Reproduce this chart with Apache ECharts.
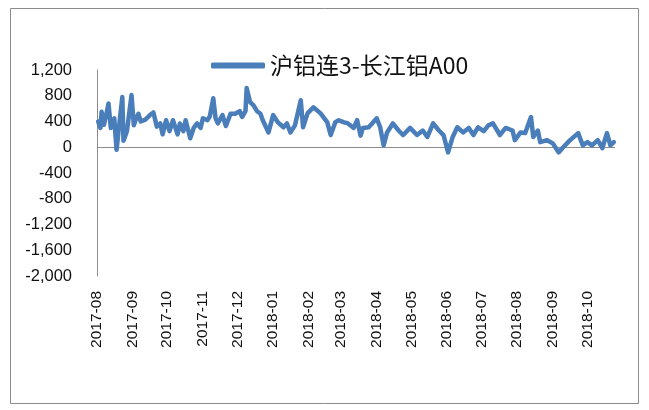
<!DOCTYPE html>
<html>
<head>
<meta charset="utf-8">
<script src="https://cdn.jsdelivr.net/npm/echarts@6/dist/echarts.min.js"></script>
<style>
html,body{margin:0;padding:0;background:#fff;}
#main{width:649px;height:410px;}
</style>
</head>
<body>
<div id="main"></div>
<script>
	var seriesName = '沪铝连3-长江铝A00';
	// dates and values (peaks / troughs of the spread)
	var dates = [
		'2017-08-02','2017-08-04','2017-08-05','2017-08-07','2017-08-09','2017-08-11','2017-08-13','2017-08-16','2017-08-18','2017-08-20',
		'2017-08-23','2017-08-24','2017-08-27','2017-08-31','2017-09-02','2017-09-04','2017-09-06','2017-09-08','2017-09-12','2017-09-16',
		'2017-09-19','2017-09-22','2017-09-25','2017-09-27','2017-09-30','2017-10-03','2017-10-06','2017-10-10','2017-10-12','2017-10-15',
		'2017-10-17','2017-10-21','2017-10-24','2017-10-27','2017-10-30','2017-11-01','2017-11-05','2017-11-07','2017-11-10','2017-11-12',
		'2017-11-14','2017-11-18','2017-11-21','2017-11-25','2017-11-29','2017-12-03','2017-12-05','2017-12-08','2017-12-09','2017-12-12',
		'2017-12-15','2017-12-18','2017-12-21','2017-12-23','2017-12-28','2018-01-01','2018-01-05','2018-01-10','2018-01-13','2018-01-16',
		'2018-01-20','2018-01-25','2018-01-27','2018-01-31','2018-02-05','2018-02-11','2018-02-17','2018-02-20','2018-02-24','2018-02-27',
		'2018-03-03','2018-03-07','2018-03-12','2018-03-15','2018-03-18','2018-03-20','2018-03-25','2018-03-28','2018-04-01','2018-04-04',
		'2018-04-07','2018-04-10','2018-04-15','2018-04-20','2018-04-24','2018-04-30','2018-05-06','2018-05-11','2018-05-15','2018-05-20',
		'2018-05-25','2018-05-29','2018-06-02','2018-06-06','2018-06-10','2018-06-15','2018-06-20','2018-06-24','2018-06-28','2018-07-03',
		'2018-07-07','2018-07-11','2018-07-17','2018-07-22','2018-07-28','2018-07-30','2018-08-04','2018-08-08','2018-08-13','2018-08-15',
		'2018-08-19','2018-08-21','2018-08-27','2018-09-01','2018-09-06','2018-09-10','2018-09-16','2018-09-23','2018-09-27','2018-10-01',
		'2018-10-05','2018-10-10','2018-10-14','2018-10-18','2018-10-21','2018-10-24'
	];
	var values = [
		400, 300, 550, 350, 500, 680, 300, 450, -40, 300,
		780, 100, 250, 810, 340, 450, 520, 400, 430, 500,
		540, 320, 370, 200, 420, 250, 420, 200, 370, 250,
		420, 140, 300, 370, 300, 450, 420, 480, 760, 450,
		370, 500, 330, 520, 520, 560, 470, 560, 920, 700,
		650, 560, 520, 420, 230, 500, 390, 310, 370, 230,
		340, 730, 310, 530, 620, 530, 390, 190, 390, 420,
		390, 370, 300, 420, 180, 300, 310, 370, 450, 310,
		30, 230, 370, 260, 190, 300, 190, 260, 160, 370,
		260, 190, -80, 160, 310, 230, 300, 190, 310, 250,
		340, 370, 190, 300, 260, 110, 230, 220, 470, 160,
		260, 80, 110, 60, -80, 0, 110, 220, 30, 80,
		30, 110, -15, 220, 30, 80
	];

	var myChart = echarts.init(document.getElementById('main'));
	var seriesData = dates.map(function (d, i) { return [d, values[i]]; });

	var option = {
		animation: false,
		backgroundColor: '#fff',
		graphic: [{
			type: 'rect',
			shape: { x: 10.5, y: 8.5, width: 628, height: 395 },
			style: { fill: 'none', stroke: '#8c8c8c', lineWidth: 1 }
		}],
		legend: {
			data: [seriesName],
			left: 206,
			top: 49,
			icon: 'roundRect',
			itemWidth: 54,
			itemHeight: 6,
			itemGap: 4,
			textStyle: {
				fontFamily: 'Noto Sans CJK SC',
				fontSize: 23,
				color: '#111'
			}
		},
		grid: {
			left: 97,
			right: 34,
			top: 70,
			bottom: 134
		},
		xAxis: {
			type: 'time',
			min: '2017-08-01',
			max: '2018-10-25',
			minInterval: 28 * 24 * 3600 * 1000,
			splitNumber: 15,
			axisLine: { show: false },
			axisTick: { show: false },
			splitLine: { show: false },
			axisLabel: {
				rotate: 90,
				margin: 15,
				formatter: '{yyyy}-{MM}',
				fontFamily: 'Liberation Sans',
				fontSize: 15.5,
				color: '#111',
				hideOverlap: false
			}
		},
		yAxis: {
			type: 'value',
			min: -2000,
			max: 1200,
			interval: 400,
			axisLine: { show: true, lineStyle: { color: '#8c8c8c', width: 1 } },
			axisTick: { show: false },
			splitLine: { show: false },
			axisLabel: {
				margin: 25,
				fontFamily: 'Liberation Sans',
				fontSize: 16.5,
				color: '#111',
				formatter: function (v) { return v.toLocaleString('en-US'); }
			}
		},
		series: [{
			name: seriesName,
			type: 'line',
			data: seriesData,
			showSymbol: false,
			symbol: 'none',
			itemStyle: { color: '#4a7ebb' },
			lineStyle: { color: '#4a7ebb', width: 4.5, join: 'round', cap: 'round' },
			markLine: {
				silent: true,
				symbol: 'none',
				label: { show: false },
				lineStyle: { color: '#8c8c8c', width: 1, type: 'solid' },
				data: [{ yAxis: 0 }],
				z: 1
			}
		}]
	};
	myChart.setOption(option);
</script>
</body>
</html>
